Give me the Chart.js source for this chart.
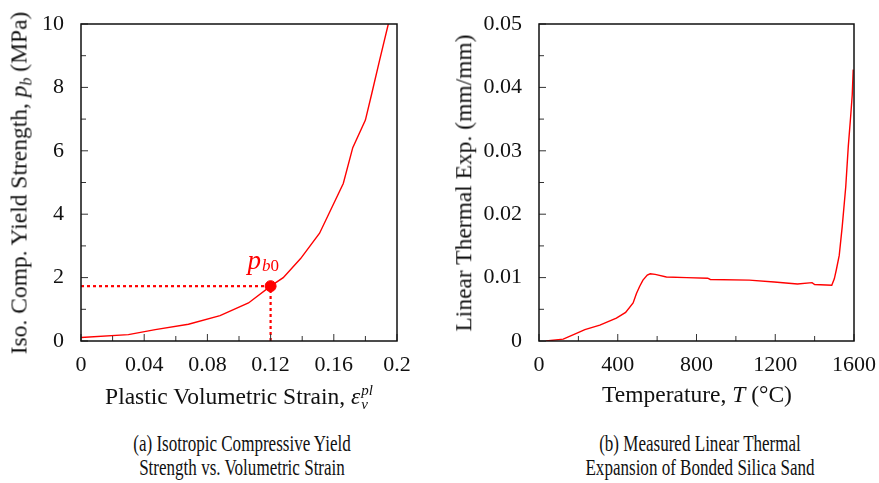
<!DOCTYPE html>
<html>
<head>
<meta charset="utf-8">
<script src="https://cdn.jsdelivr.net/npm/chart.js@4/dist/chart.umd.min.js"></script>
<style>
body{margin:0;width:879px;height:483px;background:#fff;position:relative;overflow:hidden;font-family:'Liberation Serif','Times New Roman',serif;color:#111}
canvas{position:absolute;top:0}
#cA{left:0}
#cB{left:440px}
.t{position:absolute;white-space:nowrap;font-size:23.5px;line-height:1}
.xt{transform:translateX(-50%)}
.yt{transform:translate(-50%,-50%) rotate(-90deg)}
.cap{position:absolute;font-size:24px;text-align:center;line-height:24px;transform:translateX(-50%) scaleX(0.71);white-space:nowrap}
.ss{display:inline-flex;flex-direction:column;vertical-align:9px;font-size:15px;line-height:14px;font-style:italic;margin-left:1px}
.sb{font-size:16px;font-style:italic;vertical-align:-5px}
</style>
</head>
<body>
<canvas id="cA" width="440" height="400"></canvas>
<canvas id="cB" width="439" height="400"></canvas>

<div class="t xt" style="left:239px;top:383px">Plastic Volumetric Strain, <i>ε</i><span class="ss"><span>pl</span><span>v</span></span></div>
<div class="t yt" style="left:21px;top:183px">Iso. Comp. Yield Strength, <i>p</i><span class="sb">b</span> (MPa)</div>
<div class="t xt" style="left:697px;top:383px">Temperature, <i>T</i> (°C)</div>
<div class="t yt" style="left:464px;top:183px">Linear Thermal Exp. (mm/mm)</div>

<div class="cap" style="left:242px;top:431px">(a) Isotropic Compressive Yield<br>Strength vs. Volumetric Strain</div>
<div class="cap" style="left:700px;top:431px">(b) Measured Linear Thermal<br>Expansion of Bonded Silica Sand</div>

<script>
// (a) yield strength vs plastic volumetric strain
let strainX   = [0, 0.03, 0.047, 0.068, 0.088, 0.106, 0.12, 0.128, 0.139, 0.151, 0.166, 0.172, 0.18, 0.184, 0.189, 0.1945];
let strengthY = [0.11, 0.2, 0.36, 0.53, 0.8, 1.2, 1.73, 2.0, 2.6, 3.4, 4.97, 6.1, 6.97, 7.8, 8.86, 10];
let pb0X = [0.12];
let pb0Y = [1.73];
let strainTicks = [0, 0.04, 0.08, 0.12, 0.16, 0.2];
let strainLabels = ['0', '0.04', '0.08', '0.12', '0.16', '0.2'];
let strengthTicks = [0, 2, 4, 6, 8, 10];
let strengthLabels = ['0', '2', '4', '6', '8', '10'];

// (b) measured linear thermal expansion
let tempX = [35, 123, 190, 233, 309, 393, 440, 478, 495, 511, 528, 550, 565, 590, 647, 750, 857, 870, 1068, 1195, 1313, 1387, 1400, 1487, 1500, 1510, 1525, 1540, 1558, 1571, 1583, 1591, 1596];
let expY  = [0, 0.0003, 0.0012, 0.0018, 0.0025, 0.0036, 0.0045, 0.006, 0.0075, 0.0086, 0.0096, 0.0104, 0.0106, 0.0105, 0.0101, 0.01, 0.0099, 0.0097, 0.0096, 0.0093, 0.009, 0.0092, 0.0089, 0.0088, 0.0098, 0.0112, 0.0135, 0.018, 0.0243, 0.0307, 0.0354, 0.0388, 0.0428];
let tempTicks = [0, 400, 800, 1200, 1600];
let tempLabels = ['0', '400', '800', '1200', '1600'];
let expTicks = [0, 0.01, 0.02, 0.03, 0.04, 0.05];
let expLabels = ['0', '0.01', '0.02', '0.03', '0.04', '0.05'];

const RED = '#ff0000';
const tickFont = {family: "'Liberation Serif', 'Times New Roman', serif", size: 22};

function pts(xs, ys){
	return xs.map((x, i) => ({x: x, y: ys[i]}));
}

function axis(min, max, ticks, labels, fit, pad){
	return {
		type: 'linear', min: min, max: max,
		afterBuildTicks: s => { s.ticks = ticks.map(v => ({value: v})); },
		afterFit: fit,
		grid: {display: false},
		border: {display: false},
		ticks: {font: tickFont, color: '#111', padding: pad, maxRotation: 0, autoSkip: false,
			callback: (v, i) => labels[i]}
	};
}

// frame + inward major/minor ticks
const frameTicks = {
	id: 'frameTicks',
	afterDatasetsDraw(chart){
		const ctx = chart.ctx, a = chart.chartArea;
		const xs = chart.scales.x, ys = chart.scales.y;
		ctx.save();
		ctx.strokeStyle = '#333';
		ctx.lineWidth = 1;
		const xt = xs.ticks.map(t => t.value), yt = ys.ticks.map(t => t.value);
		xt.forEach((v, i) => {
			let p = xs.getPixelForValue(v);
			ctx.beginPath(); ctx.moveTo(p, a.bottom); ctx.lineTo(p, a.bottom - 7); ctx.stroke();
			if (i < xt.length - 1){
				p = xs.getPixelForValue((v + xt[i + 1]) / 2);
				ctx.beginPath(); ctx.moveTo(p, a.bottom); ctx.lineTo(p, a.bottom - 5); ctx.stroke();
			}
		});
		yt.forEach((v, i) => {
			let p = ys.getPixelForValue(v);
			ctx.beginPath(); ctx.moveTo(a.left, p); ctx.lineTo(a.left + 7, p); ctx.stroke();
			if (i < yt.length - 1){
				p = ys.getPixelForValue((v + yt[i + 1]) / 2);
				ctx.beginPath(); ctx.moveTo(a.left, p); ctx.lineTo(a.left + 5, p); ctx.stroke();
			}
		});
		ctx.strokeStyle = '#111';
		ctx.lineWidth = 1.5;
		ctx.strokeRect(a.left, a.top, a.right - a.left, a.bottom - a.top);
		ctx.restore();
	}
};

// p_b0 label next to the marked point
const pbLabel = {
	id: 'pbLabel',
	afterDatasetsDraw(chart){
		const ctx = chart.ctx;
		const px = chart.scales.x.getPixelForValue(pb0X[0]);
		const py = chart.scales.y.getPixelForValue(pb0Y[0]);
		ctx.save();
		ctx.fillStyle = RED;
		ctx.textBaseline = 'alphabetic';
		ctx.font = "italic 27px 'Liberation Serif'";
		let x = px - 23;
		ctx.fillText('p', x, py - 17);
		x += ctx.measureText('p').width + 1;
		ctx.font = "italic 17px 'Liberation Serif'";
		ctx.fillText('b', x, py - 15);
		x += ctx.measureText('b').width;
		ctx.font = "17px 'Liberation Serif'";
		ctx.fillText('0', x, py - 15);
		ctx.restore();
	}
};

new Chart(document.getElementById('cA'), {
	type: 'line',
	data: {
		datasets: [
			{data: pts([0, pb0X[0]], [pb0Y[0], pb0Y[0]]), borderColor: RED, borderWidth: 2.2, borderDash: [3, 3], pointRadius: 0},
			{data: pts([pb0X[0], pb0X[0]], [0, pb0Y[0]]), borderColor: RED, borderWidth: 2.2, borderDash: [3, 3], pointRadius: 0},
			{data: pts(strainX, strengthY), borderColor: RED, borderWidth: 1.4, pointRadius: 0, tension: 0},
			{type: 'scatter', data: pts(pb0X, pb0Y), backgroundColor: RED, borderColor: RED, pointRadius: 5.5}
		]
	},
	options: {
		responsive: false, animation: false, devicePixelRatio: 1,
		layout: {padding: {top: 24, right: 43, left: 0, bottom: 0}},
		plugins: {legend: {display: false}, tooltip: {enabled: false}},
		scales: {
			x: axis(0, 0.2, strainTicks, strainLabels, s => { s.height = 59; }, 3),
			y: axis(0, 10, strengthTicks, strengthLabels, s => { s.width = 81; }, 9)
		}
	},
	plugins: [frameTicks, pbLabel]
});

new Chart(document.getElementById('cB'), {
	type: 'line',
	data: {
		datasets: [
			{data: pts(tempX, expY), borderColor: RED, borderWidth: 1.4, pointRadius: 0, tension: 0}
		]
	},
	options: {
		responsive: false, animation: false, devicePixelRatio: 1,
		layout: {padding: {top: 24, right: 24, left: 0, bottom: 0}},
		plugins: {legend: {display: false}, tooltip: {enabled: false}},
		scales: {
			x: axis(0, 1600, tempTicks, tempLabels, s => { s.height = 59; }, 3),
			y: axis(0, 0.05, expTicks, expLabels, s => { s.width = 99; }, 9)
		}
	},
	plugins: [frameTicks]
});
</script>
</body>
</html>
